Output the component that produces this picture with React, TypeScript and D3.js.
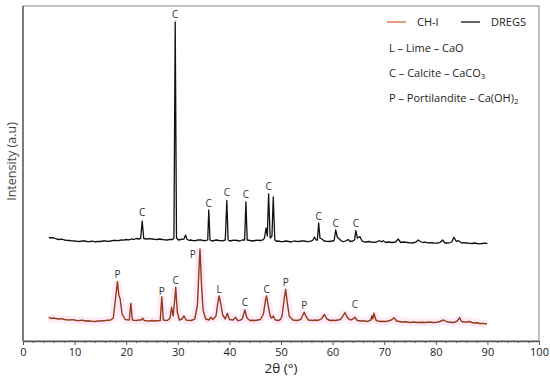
import React, { useRef, useEffect } from 'react';
import * as d3 from 'd3';

// XRD patterns, [2θ (°), intensity (a.u.)]
const dregs: [number, number][] = [
  [5.0, 1040], [5.3, 1028], [5.5, 1035], [6, 1030], [6.5, 1020], [7, 1015], [7.5, 1018], [8, 1010],
  [8.5, 1006], [9, 1005], [9.5, 1001], [10, 1000], [10.5, 996], [11, 995], [11.5, 1002], [12, 1000],
  [12.5, 993], [13, 995], [13.5, 998], [14, 990], [14.5, 996], [15, 995], [15.5, 1000], [16, 1000],
  [16.5, 997], [17, 1000], [17.5, 1006], [18, 1005], [18.5, 1003], [19, 1010], [19.5, 1008], [20, 1015],
  [20.5, 1012], [21, 1020], [21.5, 1016], [22, 1025], [22.4, 1020], [22.8, 1025], [23.1, 1200],
  [23.4, 1025], [24, 1020], [24.5, 1024], [25, 1020], [25.5, 1016], [26, 1015], [26.5, 1020],
  [27, 1015], [27.5, 1012], [28, 1010], [28.5, 1016], [29.0, 1015], [29.25, 1030], [29.5, 3190],
  [29.75, 1030], [30.1, 1010], [30.5, 1015], [31.2, 1020], [31.5, 1060], [31.8, 1015], [32.2, 1006],
  [32.5, 1010], [33, 1004], [33.5, 1005], [34, 1012], [34.5, 1010], [35, 1003], [35.5, 1005],
  [35.8, 1010], [36.0, 1310], [36.25, 1010], [36.6, 1000], [37, 1005], [37.5, 1010], [38, 1005],
  [38.6, 1002], [39.2, 1010], [39.5, 1405], [39.75, 1010], [40.1, 1000], [40.5, 1005], [41, 1008],
  [41.5, 1005], [42, 1000], [42.5, 1010], [42.95, 1010], [43.2, 1390], [43.45, 1010], [44, 1005],
  [44.5, 1000], [45, 1005], [45.5, 1008], [46, 1005], [46.5, 1012], [46.8, 1030], [47.1, 1130],
  [47.35, 1050], [47.6, 1470], [47.9, 1030], [48.25, 1050], [48.5, 1440], [48.8, 1010], [49.2, 996],
  [49.5, 1000], [50, 994], [50.5, 995], [51, 1000], [51.5, 995], [52, 990], [52.5, 1000], [53, 996],
  [53.5, 995], [54, 1002], [54.5, 1000], [55, 993], [55.5, 995], [55.9, 1002], [56.2, 1010],
  [56.5, 1040], [56.8, 1010], [57.05, 1010], [57.3, 1180], [57.55, 1030], [57.9, 1020], [58.4, 1000],
  [58.9, 996], [59.4, 995], [59.9, 1000], [60.3, 1005], [60.6, 1110], [60.9, 1040], [61.3, 1020],
  [61.7, 1000], [62.1, 994], [62.5, 1000], [63.0, 1015], [63.4, 995], [63.9, 1000], [64.25, 1010],
  [64.5, 1103], [64.8, 1030], [65.3, 1043], [65.7, 1000], [66.1, 992], [66.5, 990], [67, 995],
  [67.5, 990], [68, 986], [68.5, 990], [69.1, 1003], [69.5, 992], [69.8, 1003], [70.3, 985],
  [70.9, 990], [71.5, 985], [72.2, 990], [72.7, 1020], [73.2, 985], [73.8, 990], [74.5, 985],
  [75, 982], [75.5, 980], [76.1, 988], [76.6, 1010], [77.0, 995], [77.5, 985], [78, 988], [78.5, 980],
  [79, 984], [79.5, 980], [80, 978], [80.5, 980], [80.9, 988], [81.3, 1010], [81.8, 980], [82.5, 980],
  [83.1, 990], [83.5, 1037], [84.0, 995], [84.4, 1003], [85.0, 980], [85.5, 984], [86, 980],
  [86.5, 976], [87, 975], [87.5, 980], [88, 975], [88.5, 972], [89, 975], [89.5, 978], [90, 975],
];

const chI: [number, number][] = [
  [5.0, 240], [5.4, 225], [6, 230], [6.5, 222], [7, 220], [7.5, 224], [8, 215], [8.5, 212], [9, 210],
  [9.5, 214], [10, 210], [10.5, 204], [11, 205], [11.5, 208], [12, 200], [12.5, 203], [13, 200],
  [13.5, 196], [14, 195], [14.5, 200], [15, 200], [15.5, 203], [16, 205], [16.5, 208], [17, 210],
  [17.5, 230], [17.9, 410], [18.3, 593], [18.6, 450], [18.8, 430], [19.2, 270], [19.8, 215],
  [20.2, 212], [20.6, 210], [20.9, 377], [21.2, 210], [21.6, 206], [22, 205], [22.5, 210], [22.9, 210],
  [23.2, 227], [23.5, 205], [24, 202], [24.5, 200], [25, 205], [25.5, 200], [26, 203], [26.6, 205],
  [26.9, 443], [27.2, 210], [27.6, 207], [28, 205], [28.5, 230], [28.8, 337], [29.1, 250], [29.4, 410],
  [29.6, 537], [29.9, 290], [30.3, 210], [30.8, 220], [31.2, 250], [31.6, 210], [32, 206], [32.5, 205],
  [33, 212], [33.3, 220], [33.8, 360], [34.1, 710], [34.3, 920], [34.6, 560], [34.9, 310], [35.4, 220],
  [36.0, 210], [36.4, 237], [36.8, 215], [37.4, 250], [37.7, 360], [38.0, 450], [38.3, 380],
  [38.7, 260], [39.2, 220], [39.6, 277], [40.0, 215], [40.4, 212], [40.7, 210], [41.2, 237],
  [41.6, 205], [42.1, 208], [42.5, 220], [43.0, 310], [43.4, 230], [44, 205], [44.5, 208], [45, 205],
  [45.5, 210], [46, 215], [46.6, 270], [47.0, 410], [47.2, 450], [47.5, 360], [47.9, 250], [48.2, 230],
  [48.5, 250], [48.9, 210], [49.5, 205], [49.9, 215], [50.2, 250], [50.6, 410], [50.9, 517],
  [51.2, 390], [51.6, 250], [52.3, 210], [52.7, 207], [53.0, 205], [53.5, 210], [53.9, 220],
  [54.3, 270], [54.5, 287], [54.8, 250], [55.3, 210], [55.8, 208], [56.2, 205], [56.6, 210], [57, 205],
  [57.5, 212], [57.9, 225], [58.4, 265], [58.9, 220], [59.5, 205], [60, 208], [60.5, 205], [61, 210],
  [61.5, 215], [62.0, 250], [62.4, 283], [62.8, 240], [63.2, 218], [63.5, 210], [63.9, 218],
  [64.3, 237], [64.8, 205], [65.2, 203], [65.5, 200], [66, 204], [66.5, 195], [67, 200], [67.4, 210],
  [67.6, 250], [67.8, 220], [68.0, 277], [68.4, 210], [68.8, 200], [69.2, 195], [69.7, 198],
  [70.2, 195], [70.8, 200], [71.4, 210], [71.9, 233], [72.4, 200], [73, 195], [73.5, 190], [74.2, 192],
  [75, 185], [75.7, 190], [76.5, 185], [77.2, 188], [78, 185], [78.7, 190], [79.5, 185], [80.2, 188],
  [80.8, 195], [81.5, 210], [82.2, 190], [82.8, 188], [83.5, 185], [84.0, 195], [84.3, 210],
  [84.6, 233], [85.0, 195], [85.5, 190], [86, 190], [86.5, 195], [87, 185], [87.5, 180], [88, 182],
  [88.5, 175], [89.2, 176], [89.9, 170],
];

// peak annotations: letter, 2θ, intensity where the letter sits
const dregsPeaks: [string, number, number][] = [
  ['C', 23.1, 1290], ['C', 29.5, 3270], ['C', 36.0, 1380], ['C', 39.5, 1490], ['C', 43.2, 1470],
  ['C', 47.6, 1550], ['C', 57.3, 1250], ['C', 60.6, 1180], ['C', 64.5, 1180],
];
const chPeaks: [string, number, number][] = [
  ['P', 18.3, 670], ['P', 26.9, 493], ['C', 29.6, 610], ['P', 32.9, 870], ['L', 38.0, 520],
  ['C', 43.0, 383], ['C', 47.2, 517], ['P', 50.9, 590], ['P', 54.5, 360], ['C', 64.3, 370],
];

const xTicks = [0, 10, 20, 30, 40, 50, 60, 70, 80, 90, 100];
const seriesNames = ['CH-I', 'DREGS'];
const phases = [
  ['L – Lime – CaO', ''],
  ['C – Calcite – CaCO', '3'],
  ['P – Portilandite – Ca(OH)', '2'],
];

const W = 550;
const H = 377;
const FONT = '"Open Sans", "Noto Sans", sans-serif';

export default function App() {
  const ref = useRef<SVGSVGElement>(null);

  useEffect(() => {
    const svg = d3.select(ref.current);
    svg.selectAll('*').remove();

    const m = { left: 23, right: 539, top: 6, bottom: 341 };
    const x = d3.scaleLinear().domain([0, 100]).range([m.left, m.right]);
    const y = d3.scaleLinear().domain([0, 3350]).range([m.bottom, m.top]);

    // frame (top / right)
    svg.append('rect')
      .attr('x', m.left).attr('y', m.top)
      .attr('width', m.right - m.left).attr('height', m.bottom - m.top)
      .attr('fill', 'none').attr('stroke', '#9a9a9a').attr('stroke-width', 1.2);

    const line = d3.line<[number, number]>().x(d => x(d[0])).y(d => y(d[1]));

    // pale pink halo that sits behind the CH-I trace in the original
    svg.append('path').datum(chI)
      .attr('d', line)
      .attr('fill', 'none').attr('stroke', '#fdeaf7').attr('stroke-width', 8)
      .attr('stroke-linejoin', 'bevel');

    svg.append('path').datum(dregs)
      .attr('d', line)
      .attr('fill', 'none').attr('stroke', '#111').attr('stroke-width', 1.3)
      .attr('stroke-linejoin', 'round');

    svg.append('path').datum(chI)
      .attr('d', line)
      .attr('fill', 'none').attr('stroke', '#933a1a').attr('stroke-width', 1.4)
      .attr('stroke-linejoin', 'round');

    const labels = svg.append('g')
      .attr('font-family', FONT).attr('font-size', 10).attr('fill', '#333')
      .attr('text-anchor', 'middle');
    [...dregsPeaks, ...chPeaks].forEach(([t, a, b]) => {
      labels.append('text').attr('x', x(a)).attr('y', y(b)).attr('dy', '0.35em').text(t);
    });

    // axes
    const xAxis = d3.axisBottom(x).tickValues(xTicks).tickSize(4).tickSizeOuter(0);
    const gx = svg.append('g').attr('transform', `translate(0,${m.bottom})`).call(xAxis);
    gx.select('.domain').attr('stroke', '#555').attr('stroke-width', 1.3);
    gx.selectAll('.tick line').attr('stroke', '#555');
    gx.selectAll('.tick text')
      .attr('font-family', FONT).attr('font-size', 11).attr('fill', '#222');

    const minor = d3.range(0, 101, 2).filter(v => v % 10 !== 0);
    svg.append('g').selectAll('line').data(minor).join('line')
      .attr('x1', d => x(d)).attr('x2', d => x(d))
      .attr('y1', m.bottom).attr('y2', m.bottom + 2)
      .attr('stroke', '#555');

    svg.append('line')
      .attr('x1', m.left).attr('x2', m.left).attr('y1', m.top).attr('y2', m.bottom)
      .attr('stroke', '#555').attr('stroke-width', 1.3);

    svg.append('text')
      .attr('x', 281).attr('y', 373)
      .attr('text-anchor', 'middle').attr('font-family', FONT).attr('font-size', 13.5).attr('fill', '#222')
      .text('2θ (°)');

    svg.append('text')
      .attr('transform', `translate(12,${(m.top + m.bottom) / 2 - 12}) rotate(-90)`)
      .attr('text-anchor', 'middle').attr('dy', '0.35em')
      .attr('font-family', FONT).attr('font-size', 12.5).attr('fill', '#444')
      .text('Intensity (a.u)');

    // legend
    const lg = svg.append('g').attr('font-family', FONT).attr('font-size', 11).attr('fill', '#222');
    const colors = ['#d9613f', '#111'];
    const lx = [387, 461];
    seriesNames.forEach((s, i) => {
      lg.append('line')
        .attr('x1', lx[i]).attr('x2', lx[i] + 19).attr('y1', 22).attr('y2', 22)
        .attr('stroke', colors[i]).attr('stroke-width', 1.3);
      lg.append('text').attr('x', lx[i] + 30).attr('y', 22).attr('dy', '0.35em').text(s);
    });
    phases.forEach(([txt, sub], i) => {
      const t = lg.append('text').attr('x', 389).attr('y', 48 + i * 25).attr('dy', '0.35em');
      t.append('tspan').text(txt);
      if (sub) t.append('tspan').attr('font-size', 8).attr('dy', '0.25em').text(sub);
    });
  }, []);

  return (
    <svg ref={ref} width={W} height={H}
      style={{ position: 'absolute', left: 0, top: 0, background: '#fff' }} />
  );
}
